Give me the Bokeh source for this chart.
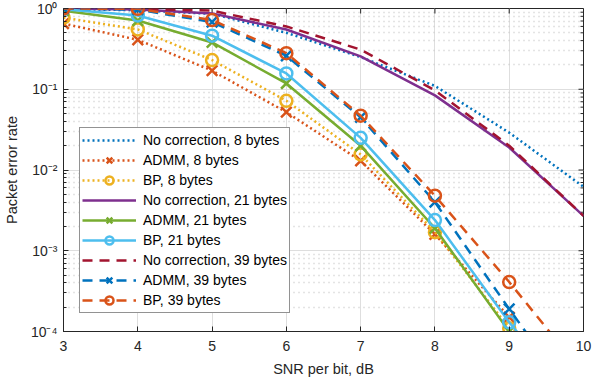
import math
from bokeh.plotting import figure
from bokeh.models import FixedTicker, Legend, LegendItem, Range1d
from bokeh.embed import file_html
from bokeh.resources import INLINE

# ---------------- data ----------------
snr = [3, 4, 5, 6, 7, 8, 9, 10]
snr9 = [3, 4, 5, 6, 7, 8, 9]

nocorr_8 = [0.99, 0.95, 0.86, 0.50, 0.25, 0.11, 0.029, 0.0062]
admm_8 = [0.65, 0.41, 0.17, 0.052, 0.013, 0.0016, 0.00015]
bp_8 = [0.77, 0.55, 0.23, 0.072, 0.0156, 0.0017, 0.00011]

nocorr_21 = [1.0, 0.97, 0.87, 0.55, 0.255, 0.084, 0.019, 0.0027]
admm_21 = [0.94, 0.71, 0.38, 0.118, 0.020, 0.0019, 0.0001, 0.00001]
bp_21 = [0.98, 0.82, 0.46, 0.157, 0.025, 0.0024, 0.00013, 0.00001]

nocorr_39 = [1.0, 0.99, 0.94, 0.60, 0.31, 0.097, 0.020, 0.0027]
admm_39 = [1.0, 0.97, 0.68, 0.26, 0.045, 0.0040, 0.00019, 0.00001]
bp_39 = [1.0, 0.99, 0.72, 0.28, 0.047, 0.0048, 0.00041, 0.00003]

x_ticks = [3, 4, 5, 6, 7, 8, 9, 10]
y_ticks = [1e-4, 1e-3, 1e-2, 1e-1, 1]
y_tick_labels = ["10\u207b\u2074", "10\u207b\u00b3", "10\u207b\u00b2", "10\u207b\u00b9", "10\u2070"]
y_minor = [k * 10.0 ** e for e in range(-4, 0) for k in range(2, 10)]

labels = ["No correction, 8 bytes", "ADMM, 8 bytes", "BP, 8 bytes",
          "No correction, 21 bytes", "ADMM, 21 bytes", "BP, 21 bytes",
          "No correction, 39 bytes", "ADMM, 39 bytes", "BP, 39 bytes"]

BLUE, ORANGE, YELLOW = "#0072BD", "#D95319", "#EDB120"
PURPLE, GREEN, LBLUE, DRED = "#7E2F8E", "#77AC30", "#4DBEEE", "#A2142F"

FONT = "Liberation Sans"
AX = "#262626"

X_MIN, X_MAX = 3, 10
Y_MIN, Y_MAX = 1e-4, 1

p = figure(width=592, height=387, x_range=Range1d(X_MIN, X_MAX), y_range=Range1d(Y_MIN, Y_MAX),
           y_axis_type="log", output_backend="svg", toolbar_location=None,
           min_border_left=63, min_border_right=9, min_border_top=8, min_border_bottom=56)
p.outline_line_color = AX
p.outline_line_width = 1

yt = FixedTicker(ticks=y_ticks, minor_ticks=y_minor)
xt = FixedTicker(ticks=x_ticks)
p.xaxis.ticker = xt
p.yaxis.ticker = yt
p.yaxis.major_label_overrides = {t: l for t, l in zip(y_ticks, y_tick_labels)}

for ax in p.xaxis + p.yaxis:
    ax.major_tick_in = 5
    ax.major_tick_out = 0
    ax.minor_tick_in = 3
    ax.minor_tick_out = 0
    ax.axis_line_color = AX
    ax.major_tick_line_color = AX
    ax.minor_tick_line_color = AX
    ax.major_label_text_font = FONT
    ax.major_label_text_font_size = "14px"
    ax.major_label_text_color = AX
    ax.axis_label_text_font = FONT
    ax.axis_label_text_font_size = "14.5px"
    ax.axis_label_text_font_style = "normal"
    ax.axis_label_text_color = AX
p.xaxis.minor_tick_line_color = None
p.xaxis.major_label_standoff = 9
p.yaxis.major_label_standoff = 6
p.xaxis.axis_label = "SNR per bit, dB"
p.yaxis.axis_label = "Packet error rate"
p.xaxis.axis_label_standoff = 7
p.yaxis.axis_label_standoff = 8

# inward ticks on the top and right frame edges (box on)
p.ray(x=x_ticks, y=[Y_MAX] * len(x_ticks), length=5, length_units="screen",
      angle=-math.pi / 2, line_color=AX, line_width=1)
p.ray(x=[X_MAX] * len(y_ticks), y=y_ticks, length=5, length_units="screen",
      angle=math.pi, line_color=AX, line_width=1)
p.ray(x=[X_MAX] * len(y_minor), y=y_minor, length=3, length_units="screen",
      angle=math.pi, line_color=AX, line_width=1)

p.xgrid.ticker = xt
p.ygrid.ticker = yt
p.xgrid.grid_line_color = "#dedede"
p.ygrid.grid_line_color = "#dedede"
p.ygrid.minor_grid_line_color = "#c8c8c8"
p.ygrid.minor_grid_line_dash = "1 4"
p.ygrid.minor_grid_line_width = 1.3

LW = 2.5
DOT = "2 3"
DASH = "10 7"

series = [
    (snr, nocorr_8, BLUE, DOT, None),
    (snr9, admm_8, ORANGE, DOT, "x"),
    (snr9, bp_8, YELLOW, DOT, "circle"),
    (snr, nocorr_21, PURPLE, "solid", None),
    (snr, admm_21, GREEN, "solid", "x"),
    (snr, bp_21, LBLUE, "solid", "circle"),
    (snr, nocorr_39, DRED, DASH, None),
    (snr, admm_39, BLUE, DASH, "x"),
    (snr, bp_39, ORANGE, DASH, "circle"),
]

items = []
for (xs, ys, col, dash, mk), lab in zip(series, labels):
    r = [p.line(xs, ys, line_color=col, line_width=LW, line_dash=dash)]
    if mk is not None:
        r.append(p.scatter(xs, ys, marker=mk, size=15 if mk == "x" else 12,
                           line_color=col, fill_color=None, line_width=2.5))
    items.append(LegendItem(label=lab, renderers=r))

legend = Legend(items=items, location=(16, 18), margin=0, padding=2,
                label_text_font=FONT, label_text_font_size="14px", label_text_color="black",
                label_height=20, glyph_height=20, glyph_width=54, label_standoff=7, spacing=0,
                border_line_color=AX, border_line_width=1,
                background_fill_color="white", background_fill_alpha=1.0)
p.add_layout(legend)

open("out.html", "w").write(file_html(p, INLINE))
